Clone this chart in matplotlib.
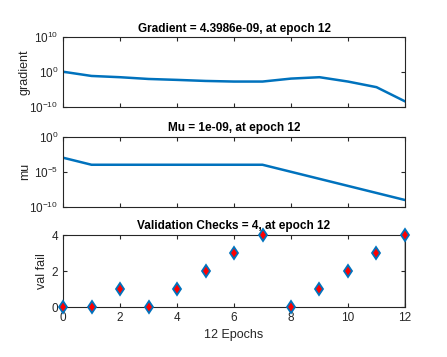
import matplotlib
matplotlib.use('Agg')
import matplotlib.pyplot as plt
import numpy as np

# Training record
epochs = np.arange(0, 13)
gradient = [1.3, 8e-2, 3.5e-2, 1.1e-2, 6e-3, 3e-3, 2e-3, 2e-3, 1.4e-2, 3.5e-2, 2e-3, 5e-5, 4.3986e-9]
mu = [1e-3, 1e-4, 1e-4, 1e-4, 1e-4, 1e-4, 1e-4, 1e-4, 1e-5, 1e-6, 1e-7, 1e-8, 1e-9]
val_fail = [0, 0, 1, 0, 1, 2, 3, 4, 0, 1, 2, 3, 4]

blue = '#0072BD'
tick_col = '#262626'

plt.rcParams['font.family'] = ['Liberation Sans', 'DejaVu Sans']
plt.rcParams['mathtext.fontset'] = 'custom'
plt.rcParams['mathtext.rm'] = 'Liberation Sans'

fig = plt.figure(figsize=(4.47, 3.57), dpi=100)
left, width = 0.141, 0.765
ax1 = fig.add_axes([left, 0.700, width, 0.196])
ax2 = fig.add_axes([left, 0.420, width, 0.1975])
ax3 = fig.add_axes([left, 0.140, width, 0.2017])


def style(ax):
    ax.tick_params(direction='in', top=True, right=True, length=3,
                   labelsize=8.5, colors=tick_col, width=0.8)
    ax.tick_params(which='minor', length=0)
    for s in ax.spines.values():
        s.set_color(tick_col)
        s.set_linewidth(0.8)
    ax.set_xlim(0, 12)
    ax.set_xticks(range(0, 13, 2))


# Gradient
ax1.semilogy(epochs, gradient, color=blue, lw=1.8)
ax1.set_ylim(1e-10, 1e10)
ax1.set_yticks([1e-10, 1e0, 1e10])
style(ax1)
ax1.set_xticklabels([])
ax1.set_ylabel('gradient', fontsize=9, color=tick_col)
ax1.yaxis.set_label_coords(-0.094, 0.5)
ax1.set_title('Gradient = 4.3986e-09, at epoch 12', fontsize=8.5,
              fontweight='bold', pad=4)

# Mu
ax2.semilogy(epochs, mu, color=blue, lw=1.8)
ax2.set_ylim(1e-10, 1e0)
ax2.set_yticks([1e-10, 1e-5, 1e0])
style(ax2)
ax2.set_xticklabels([])
ax2.set_ylabel('mu', fontsize=9, color=tick_col)
ax2.yaxis.set_label_coords(-0.094, 0.5)
ax2.set_title('Mu = 1e-09, at epoch 12', fontsize=8.5, fontweight='bold', pad=4)

# Validation checks
ax3.axvline(12, color='#b4b4b4', lw=2, zorder=1)
ax3.plot(epochs, val_fail, linestyle='none', marker='d', ms=6.5,
         mfc='red', mec=blue, mew=1.3, clip_on=False, zorder=3)
ax3.set_ylim(0, 4)
ax3.set_yticks([0, 2, 4])
style(ax3)
ax3.set_ylabel('val fail', fontsize=9, color=tick_col)
ax3.yaxis.set_label_coords(-0.045, 0.5)
ax3.set_xlabel('12 Epochs', fontsize=9, color=tick_col, labelpad=4)
ax3.set_title('Validation Checks = 4, at epoch 12', fontsize=8.5,
              fontweight='bold', pad=4)

fig.savefig('out.png', dpi=100)
